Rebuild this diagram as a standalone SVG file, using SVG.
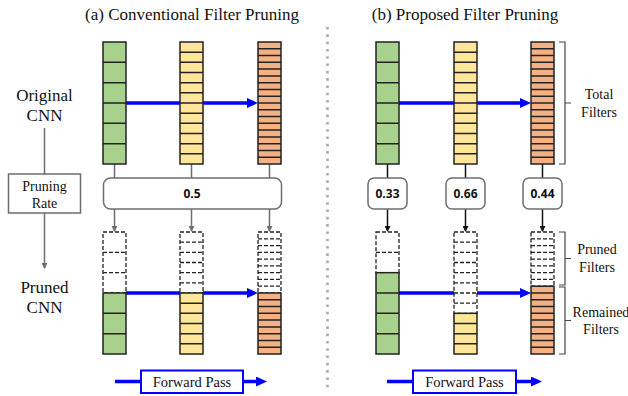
<svg xmlns="http://www.w3.org/2000/svg" width="628" height="396" viewBox="0 0 628 396">
<style>
.title{font-family:"Liberation Serif","Times New Roman",serif;font-size:17px;fill:#111;text-anchor:middle}
.lbl{font-family:"Liberation Serif","Times New Roman",serif;font-size:17px;fill:#111;text-anchor:middle}
.sm{font-family:"Liberation Serif","Times New Roman",serif;font-size:14px;fill:#111;text-anchor:middle}
.rate{font-family:"Open Sans","DejaVu Sans",sans-serif;font-size:12px;font-weight:bold;fill:#111;text-anchor:middle}
.cell{stroke:#222;stroke-width:1.5;fill:none}
.dash{stroke:#222;stroke-width:1.3;fill:#fff;stroke-dasharray:4 2}
.dashl{stroke:#222;stroke-width:1.3;fill:none;stroke-dasharray:4 2}
.g{fill:#A9D18E}.y{fill:#FFE699}.o{fill:#F4B183}
.blue{stroke:#0000FF;stroke-width:3.5;fill:none}
.gray{stroke:#6E6E6E;stroke-width:1.5;fill:none}
.blk{stroke:#111;stroke-width:1.5;fill:none}
.rbox{fill:#fff;stroke:#6E6E6E;stroke-width:1.5}
.brace{stroke:#444;stroke-width:1.2;fill:none}
</style>
<defs>
<marker id="ab" viewBox="0 0 11 10" refX="3" refY="5" markerWidth="11" markerHeight="10" markerUnits="userSpaceOnUse" orient="auto"><path d="M0 0L11 5L0 10z" fill="#0000FF"/></marker>
<marker id="ag" viewBox="0 0 6 6" refX="5" refY="3" markerWidth="6" markerHeight="6" markerUnits="userSpaceOnUse" orient="auto"><path d="M0 0L6 3L0 6z" fill="#6E6E6E"/></marker>
<marker id="ak" viewBox="0 0 6 6" refX="5" refY="3" markerWidth="6" markerHeight="6" markerUnits="userSpaceOnUse" orient="auto"><path d="M0 0L6 3L0 6z" fill="#111"/></marker>
<g id="colG"><rect width="23" height="122" class="g"/><path class="cell" d="M0 20.33h23M0 40.67h23M0 61h23M0 81.33h23M0 101.67h23"/><rect width="23" height="122" class="cell"/></g>
<g id="colY"><rect width="23" height="122" class="y"/><path class="cell" d="M0 10.17h23M0 20.33h23M0 30.5h23M0 40.67h23M0 50.83h23M0 61h23M0 71.17h23M0 81.33h23M0 91.5h23M0 101.67h23M0 111.83h23"/><rect width="23" height="122" class="cell"/></g>
<g id="colO"><rect width="23" height="122" class="o"/><path class="cell" d="M0 6.78h23M0 13.56h23M0 20.33h23M0 27.11h23M0 33.89h23M0 40.67h23M0 47.44h23M0 54.22h23M0 61h23M0 67.78h23M0 74.56h23M0 81.33h23M0 88.11h23M0 94.89h23M0 101.67h23M0 108.44h23M0 115.22h23"/><rect width="23" height="122" class="cell"/></g>
</defs>

<rect width="628" height="396" fill="#fff"/>

<text class="title" x="192" y="20">(a) Conventional Filter Pruning</text>
<text class="title" x="465" y="20">(b) Proposed Filter Pruning</text>

<line x1="327.5" y1="27" x2="327.5" y2="388" stroke="#AAAAAA" stroke-width="2.6" stroke-dasharray="2.6 4.7"/>

<g id="connectors">
<line class="blue" x1="126" y1="103" x2="250" y2="103" marker-end="url(#ab)"/>
<line class="blue" x1="126" y1="293" x2="250" y2="293" marker-end="url(#ab)"/>
<line class="blue" x1="399" y1="103" x2="523" y2="103" marker-end="url(#ab)"/>
<line class="blue" x1="399" y1="293" x2="523" y2="293" marker-end="url(#ab)"/>
<path class="gray" d="M114.5 164V178M191.5 164V178M269.5 164V178"/>
<line class="gray" x1="114.5" y1="209" x2="114.5" y2="231" marker-end="url(#ag)"/>
<line class="gray" x1="191.5" y1="209" x2="191.5" y2="231" marker-end="url(#ag)"/>
<line class="gray" x1="269.5" y1="209" x2="269.5" y2="231" marker-end="url(#ag)"/>
<path class="blk" d="M387.5 164V178M465.5 164V178M542.5 164V178"/>
<line class="blk" x1="387.5" y1="209" x2="387.5" y2="231" marker-end="url(#ak)"/>
<line class="blk" x1="465.5" y1="209" x2="465.5" y2="231" marker-end="url(#ak)"/>
<line class="blk" x1="542.5" y1="209" x2="542.5" y2="231" marker-end="url(#ak)"/>
<line class="gray" x1="44.5" y1="128" x2="44.5" y2="174"/>
<line class="gray" x1="44.5" y1="213" x2="44.5" y2="268" marker-end="url(#ag)"/>
</g>

<g id="label-original"><text class="lbl" x="44.5" y="101">Original</text><text class="lbl" x="44.5" y="121">CNN</text></g>
<g id="label-pruned"><text class="lbl" x="44.5" y="293">Pruned</text><text class="lbl" x="44.5" y="313">CNN</text></g>
<g id="pruning-rate"><rect x="8.5" y="174" width="72" height="39" fill="#fff" stroke="#6E6E6E" stroke-width="1.5"/><text class="sm" x="44.5" y="191">Pruning</text><text class="sm" x="44.5" y="208">Rate</text></g>

<g id="a-orig-green"><use href="#colG" x="103" y="42"/></g>
<g id="a-orig-yellow"><use href="#colY" x="180" y="42"/></g>
<g id="a-orig-orange"><use href="#colO" x="258" y="42"/></g>

<g id="a-rate"><rect class="rbox" x="103.5" y="178" width="178" height="31" rx="7"/><text class="rate" x="192" y="198">0.5</text></g>

<g id="a-pruned-green">
<rect class="dash" x="103" y="232" width="23" height="61"/><path class="dashl" d="M103 252.33h23M103 272.67h23"/>
<rect class="g" x="103" y="293" width="23" height="61"/><path class="cell" d="M103 313.33h23M103 333.67h23"/><rect class="cell" x="103" y="293" width="23" height="61"/>
</g>
<g id="a-pruned-yellow">
<rect class="dash" x="180" y="232" width="23" height="61"/><path class="dashl" d="M180 242.17h23M180 252.33h23M180 262.5h23M180 272.67h23M180 282.83h23"/>
<rect class="y" x="180" y="293" width="23" height="61"/><path class="cell" d="M180 303.17h23M180 313.33h23M180 323.5h23M180 333.67h23M180 343.83h23"/><rect class="cell" x="180" y="293" width="23" height="61"/>
</g>
<g id="a-pruned-orange">
<rect class="dash" x="258" y="232" width="23" height="61"/><path class="dashl" d="M258 238.78h23M258 245.56h23M258 252.33h23M258 259.11h23M258 265.89h23M258 272.67h23M258 279.44h23M258 286.22h23"/>
<rect class="o" x="258" y="293" width="23" height="61"/><path class="cell" d="M258 299.78h23M258 306.56h23M258 313.33h23M258 320.11h23M258 326.89h23M258 333.67h23M258 340.44h23M258 347.22h23"/><rect class="cell" x="258" y="293" width="23" height="61"/>
</g>

<g id="b-orig-green"><use href="#colG" x="376" y="42"/></g>
<g id="b-orig-yellow"><use href="#colY" x="454" y="42"/></g>
<g id="b-orig-orange"><use href="#colO" x="531" y="42"/></g>

<g id="b-rate-1"><rect class="rbox" x="368" y="178" width="39" height="31" rx="6"/><text class="rate" x="387.5" y="198">0.33</text></g>
<g id="b-rate-2"><rect class="rbox" x="446" y="178" width="39" height="31" rx="6"/><text class="rate" x="465.5" y="198">0.66</text></g>
<g id="b-rate-3"><rect class="rbox" x="523" y="178" width="39" height="31" rx="6"/><text class="rate" x="542.5" y="198">0.44</text></g>

<g id="b-pruned-green">
<rect class="dash" x="376" y="232" width="23" height="40.67"/><path class="dashl" d="M376 252.33h23"/>
<rect class="g" x="376" y="272.67" width="23" height="81.33"/><path class="cell" d="M376 293h23M376 313.33h23M376 333.67h23"/><rect class="cell" x="376" y="272.67" width="23" height="81.33"/>
</g>
<g id="b-pruned-yellow">
<rect class="dash" x="454" y="232" width="23" height="81.33"/><path class="dashl" d="M454 242.17h23M454 252.33h23M454 262.5h23M454 272.67h23M454 282.83h23M454 293h23M454 303.17h23"/>
<rect class="y" x="454" y="313.33" width="23" height="40.67"/><path class="cell" d="M454 323.5h23M454 333.67h23M454 343.83h23"/><rect class="cell" x="454" y="313.33" width="23" height="40.67"/>
</g>
<g id="b-pruned-orange">
<rect class="dash" x="531" y="232" width="23" height="54.22"/><path class="dashl" d="M531 238.78h23M531 245.56h23M531 252.33h23M531 259.11h23M531 265.89h23M531 272.67h23M531 279.44h23"/>
<rect class="o" x="531" y="286.22" width="23" height="67.78"/><path class="cell" d="M531 293h23M531 299.78h23M531 306.56h23M531 313.33h23M531 320.11h23M531 326.89h23M531 333.67h23M531 340.44h23M531 347.22h23"/><rect class="cell" x="531" y="286.22" width="23" height="67.78"/>
</g>

<g id="brace-total"><path class="brace" d="M559 42H565V164H559M565 103H571"/><text class="sm" x="599" y="99">Total</text><text class="sm" x="599" y="117">Filters</text></g>
<g id="brace-pruned"><path class="brace" d="M559 232H565V285H559M565 258.5H571"/><text class="sm" x="597" y="254">Pruned</text><text class="sm" x="597" y="272">Filters</text></g>
<g id="brace-remained"><path class="brace" d="M559 287H565V354H559M565 320.5H571"/><text class="sm" x="601" y="317">Remained</text><text class="sm" x="601" y="334">Filters</text></g>

<g id="a-forward">
<line class="blue" x1="115" y1="381.5" x2="141" y2="381.5"/>
<rect x="141" y="370.5" width="102" height="22.5" fill="#fff" stroke="#0000FF" stroke-width="2"/>
<text class="sm" x="192" y="387" style="font-size:14.5px">Forward Pass</text>
<line class="blue" x1="243" y1="381.5" x2="259" y2="381.5" stroke-width="3" marker-end="url(#ab)"/>
</g>
<g id="b-forward">
<line class="blue" x1="387" y1="381.5" x2="413" y2="381.5"/>
<rect x="413" y="370.5" width="103" height="22.5" fill="#fff" stroke="#0000FF" stroke-width="2"/>
<text class="sm" x="464.5" y="387" style="font-size:14.5px">Forward Pass</text>
<line class="blue" x1="516" y1="381.5" x2="534" y2="381.5" stroke-width="3" marker-end="url(#ab)"/>
</g>
</svg>
